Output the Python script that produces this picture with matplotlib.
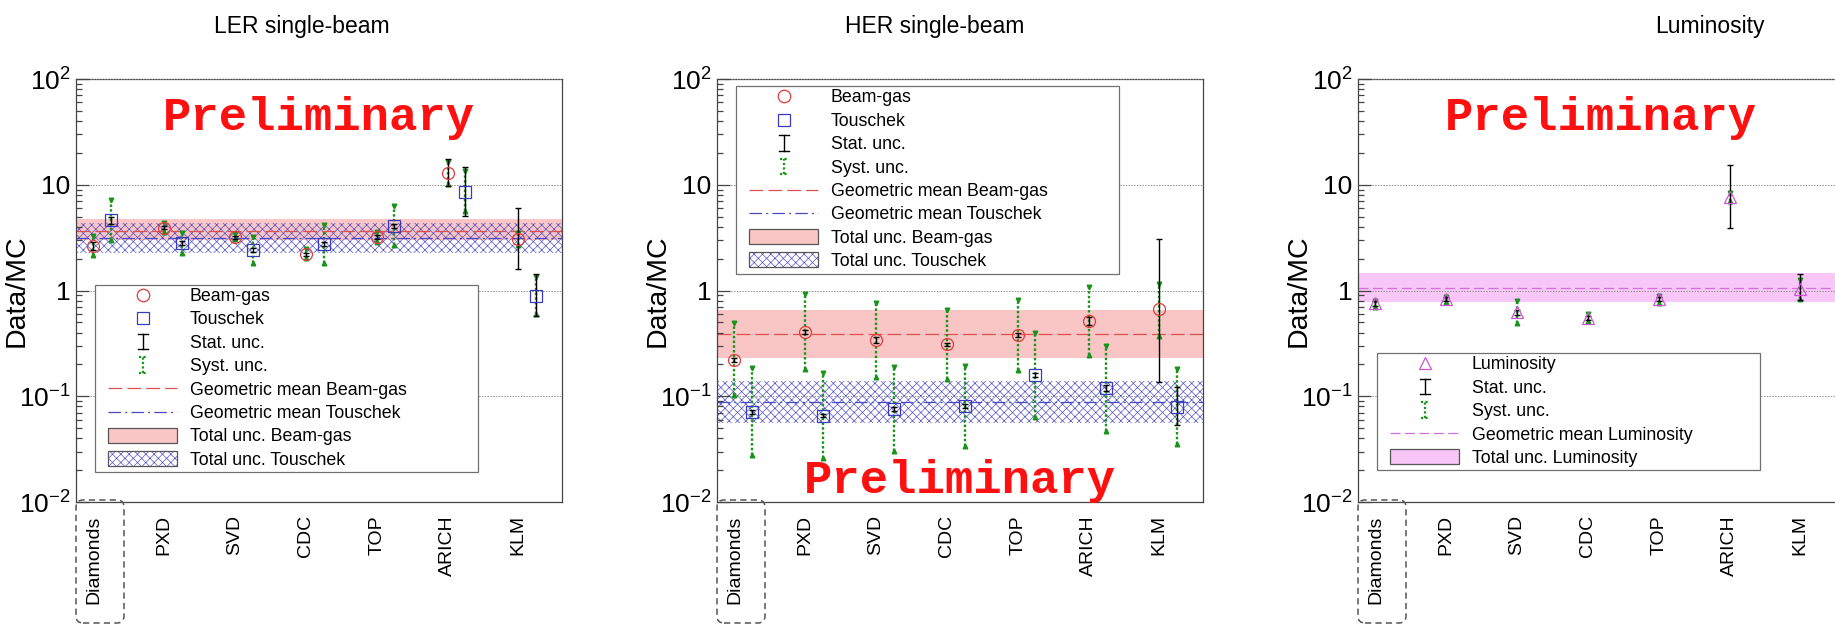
import numpy as np
import matplotlib
matplotlib.use("Agg")
import matplotlib.pyplot as plt
from matplotlib.legend_handler import HandlerBase
from matplotlib.lines import Line2D
from matplotlib.patches import Rectangle, FancyBboxPatch
from matplotlib.transforms import IdentityTransform
from matplotlib.ticker import FixedLocator, FixedFormatter, NullFormatter, LogLocator

plt.rcParams.update({
    'font.family': ['Liberation Sans', 'DejaVu Sans'],
    'mathtext.fontset': 'custom',
    'mathtext.rm': 'Liberation Sans',
    'mathtext.it': 'Liberation Sans:italic',
    'mathtext.bf': 'Liberation Sans:bold',
    'mathtext.default': 'regular',
    'lines.scale_dashes': False,
    'hatch.linewidth': 0.5,
    'hatch.color': '#5454c8',
})

# ---------------- data ----------------
categories = ['Diamonds', 'PXD', 'SVD', 'CDC', 'TOP', 'ARICH', 'KLM']
panel_titles = ['LER single-beam', 'HER single-beam', 'Luminosity']
ytick_values = [1e-2, 1e-1, 1, 10, 100]
ytick_labels = [r'$10^{-2}$', r'$10^{-1}$', '1', '10', r'$10^{2}$']

# LER single-beam
ler_bg_val = [2.64, 3.92, 3.20, 2.21, 3.23, 13.0, 3.07]
ler_bg_stat_lo = [2.43, 3.78, 3.10, 2.14, 3.10, 9.7, 1.60]
ler_bg_stat_hi = [2.88, 4.07, 3.30, 2.28, 3.37, 17.4, 6.03]
ler_bg_syst_lo = [2.17, 3.55, 3.05, 2.03, 2.89, 10.2, 2.70]
ler_bg_syst_hi = [3.27, 4.35, 3.40, 2.47, 3.60, 16.5, 3.50]
ler_t_val = [4.64, 2.83, 2.41, 2.73, 4.10, 8.6, 0.887]
ler_t_stat_lo = [4.30, 2.70, 2.32, 2.62, 3.90, 5.06, 0.574]
ler_t_stat_hi = [5.00, 2.97, 2.50, 2.85, 4.30, 14.6, 1.42]
ler_t_syst_lo = [3.00, 2.26, 1.81, 1.81, 2.69, 5.6, 0.60]
ler_t_syst_hi = [7.18, 3.52, 3.22, 4.16, 6.30, 13.5, 1.35]
ler_bg_mean, ler_bg_band = 3.68, (3.00, 4.70)
ler_t_mean, ler_t_band = 3.12, (2.28, 4.32)

# HER single-beam
her_bg_val = [0.220, 0.408, 0.340, 0.310, 0.380, 0.515, 0.664]
her_bg_stat_lo = [0.210, 0.390, 0.318, 0.300, 0.365, 0.475, 0.136]
her_bg_stat_hi = [0.230, 0.425, 0.362, 0.320, 0.395, 0.560, 3.08]
her_bg_syst_lo = [0.103, 0.180, 0.151, 0.145, 0.177, 0.246, 0.370]
her_bg_syst_hi = [0.490, 0.930, 0.757, 0.660, 0.810, 1.090, 1.150]
her_t_val = [0.0710, 0.0655, 0.0757, 0.0810, 0.159, 0.119, 0.0796]
her_t_stat_lo = [0.0680, 0.0630, 0.0720, 0.0770, 0.153, 0.112, 0.0535]
her_t_stat_hi = [0.0740, 0.0680, 0.0790, 0.0850, 0.165, 0.127, 0.122]
her_t_syst_lo = [0.0277, 0.0259, 0.0305, 0.0335, 0.064, 0.047, 0.035]
her_t_syst_hi = [0.184, 0.167, 0.190, 0.193, 0.400, 0.300, 0.180]
her_bg_mean, her_bg_band = 0.388, (0.229, 0.654)
her_t_mean, her_t_band = 0.0889, (0.0562, 0.139)

# Luminosity
lum_val = [0.757, 0.826, 0.622, 0.553, 0.826, 7.6, 1.03]
lum_stat_lo = [0.720, 0.790, 0.590, 0.530, 0.790, 3.93, 0.81]
lum_stat_hi = [0.790, 0.860, 0.660, 0.580, 0.865, 15.3, 1.42]
lum_syst_lo = [0.700, 0.780, 0.490, 0.510, 0.770, 7.0, 0.83]
lum_syst_hi = [0.800, 0.870, 0.800, 0.600, 0.880, 8.3, 1.26]
lum_mean, lum_band = 1.06, (0.773, 1.45)

# ---------------- style ----------------
W, H, DPI = 1835, 626, 100
AX_LEFTS = [76, 717, 1358]
AX_TOP, AX_BOTTOM, AX_W = 79, 502, 486
XLIM = (-0.247, 6.617)
T_OFF = 0.25
TITLE_X = [302, 935, 1710]
HATCH = 'xxxx'

RED = '#e23a3a'
RED_LINE = '#dc5050'
BLUE = '#3a3ac0'
BLUE_LINE = '#4848c8'
HATCH_BLUE = '#5454c8'
PINK = '#f9c5c5'
MAG = '#cc55d6'
MAG_LINE = '#d070d8'
MAG_BAND = '#f9c6f8'
GREEN = '#1a931a'
FRAME = '#444444'

fig = plt.figure(figsize=(W / DPI, H / DPI), dpi=DPI)


class Entry:
    def __init__(self, kind, **kw):
        self.kind = kind
        self.kw = kw


INNER = 49.7  # points


class EntryHandler(HandlerBase):
    def create_artists(self, legend, h, xd, yd, width, height, fontsize, trans):
        x1 = width - xd
        x0 = x1 - INNER
        xc = 0.5 * (x0 + x1)
        yc = height / 2.0 - yd
        kw = h.kw
        arts = []
        if h.kind == 'marker':
            arts.append(Line2D([xc], [yc], ls='none', marker=kw['marker'], ms=kw['ms'],
                               mfc='none', mec=kw['color'], mew=0.9))
        elif h.kind == 'stat':
            hh, cw = 5.6, 3.6
            arts.append(Line2D([xc, xc], [yc - hh, yc + hh], color='black', lw=1.0))
            arts.append(Line2D([xc - cw, xc + cw], [yc + hh, yc + hh], color='black', lw=1.0))
            arts.append(Line2D([xc - cw, xc + cw], [yc - hh, yc - hh], color='black', lw=1.0))
        elif h.kind == 'syst':
            hh, cw = 5.6, 3.0
            arts.append(Line2D([xc, xc], [yc - hh, yc + hh], color=GREEN, lw=1.6, dashes=(1.6, 1.6)))
            arts.append(Line2D([xc - cw, xc + cw], [yc + hh, yc + hh], color=GREEN, lw=1.6, dashes=(1.6, 1.6)))
            arts.append(Line2D([xc - cw, xc + cw], [yc - hh, yc - hh], color=GREEN, lw=1.6, dashes=(1.6, 1.6)))
        elif h.kind == 'line':
            arts.append(Line2D([x0, x1], [yc, yc], color=kw['color'], lw=0.9, dashes=kw['dashes']))
        elif h.kind == 'patch':
            hh = 5.4
            if kw.get('hatch'):
                arts.append(Rectangle((x0, yc - hh), x1 - x0, 2 * hh, facecolor='white',
                                      edgecolor=HATCH_BLUE, hatch=kw['hatch'], lw=0))
                arts.append(Rectangle((x0, yc - hh), x1 - x0, 2 * hh, facecolor='none',
                                      edgecolor='#555555', lw=0.9))
            else:
                arts.append(Rectangle((x0, yc - hh), x1 - x0, 2 * hh, facecolor=kw['fc'],
                                      edgecolor='#555555', lw=0.9))
        for a in arts:
            a.set_transform(trans)
        return arts


def setup_axes(left_px):
    ax = fig.add_axes([left_px / W, (H - AX_BOTTOM) / H, AX_W / W, (AX_BOTTOM - AX_TOP) / H])
    ax.set_yscale('log')
    ax.set_ylim(1e-2, 1e2)
    ax.set_xlim(*XLIM)
    ax.set_axisbelow(False)
    ax.yaxis.set_major_locator(FixedLocator(ytick_values))
    ax.yaxis.set_major_formatter(FixedFormatter(ytick_labels))
    ax.yaxis.set_minor_locator(LogLocator(base=10, subs=np.arange(2, 10)))
    ax.yaxis.set_minor_formatter(NullFormatter())
    ax.tick_params(axis='y', which='major', direction='in', length=9, width=0.9,
                   color=FRAME, labelsize=19, pad=4, right=False)
    ax.tick_params(axis='y', which='minor', direction='in', length=4.5, width=0.9,
                   color=FRAME, right=False)
    ax.set_xticks(range(len(categories)))
    ax.set_xticklabels(categories, rotation=90, va='top', ha='center')
    ax.tick_params(axis='x', length=0, pad=9.5, labelsize=14)
    ax.yaxis.grid(True, which='major', color='#8c8c8c', lw=0.7, ls=(0, (1, 1)))
    for s in ax.spines.values():
        s.set_color(FRAME)
        s.set_linewidth(0.9)
    ax.set_ylabel('Data/MC', fontsize=20.5)
    ax.yaxis.set_label_coords(-0.0959, 0.5)
    # dashed rounded box around the "Diamonds" label
    box = FancyBboxPatch((left_px, H - 623), 48, 123,
                         boxstyle='round,pad=0,rounding_size=7',
                         transform=IdentityTransform(), fill=False,
                         ec='#555555', lw=1.1, ls=(0, (4.5, 3)))
    fig.add_artist(box)
    return ax


def draw_series(ax, x, val, stat_lo, stat_hi, syst_lo, syst_hi, marker, color, ms):
    val = np.asarray(val)
    stat_lo, stat_hi = np.asarray(stat_lo), np.asarray(stat_hi)
    syst_lo, syst_hi = np.asarray(syst_lo), np.asarray(syst_hi)
    eb = ax.errorbar(x, val, yerr=[val - syst_lo, syst_hi - val], fmt='none',
                     ecolor=GREEN, elinewidth=1.7, capsize=0, zorder=3)
    for lc in eb[2]:
        lc.set_linestyle((0, (1.8, 1.6)))
    ax.plot(x, syst_hi, ls='none', marker='v', ms=3.3, color=GREEN, zorder=3)
    ax.plot(x, syst_lo, ls='none', marker='^', ms=3.3, color=GREEN, zorder=3)
    ax.errorbar(x, val, yerr=[val - stat_lo, stat_hi - val], fmt='none',
                ecolor='black', elinewidth=1.0, capsize=1.9, capthick=1.0, zorder=4)
    ax.plot(x, val, ls='none', marker=marker, ms=ms, mfc='none', mec=color, mew=0.9, zorder=5)


def preliminary(ax, yfrac):
    ax.text(0.5, yfrac, 'Preliminary', transform=ax.transAxes, ha='center', va='baseline',
            fontsize=34, fontweight='bold', family='Liberation Mono', color='#ff1010', zorder=7)


def legend(ax, handles, labels, top):
    leg = ax.legend(handles, labels, handler_map={Entry: EntryHandler()},
                    loc='upper left', bbox_to_anchor=(19 / AX_W, top, 383 / AX_W, 0),
                    mode='expand', borderaxespad=0, borderpad=0.19, labelspacing=0.36,
                    handlelength=4.45, handletextpad=0.7, fontsize=12.8,
                    frameon=True, fancybox=False, edgecolor='#707070', framealpha=1)
    leg.get_frame().set_linewidth(0.9)
    leg.set_zorder(6)
    return leg


x = np.arange(len(categories))

bt_handles = [Entry('marker', marker='o', color=RED, ms=9),
              Entry('marker', marker='s', color=BLUE, ms=8.5),
              Entry('stat'), Entry('syst'),
              Entry('line', color=RED_LINE, dashes=(10, 3.6)),
              Entry('line', color=BLUE_LINE, dashes=(9, 3, 1.5, 3)),
              Entry('patch', fc=PINK),
              Entry('patch', hatch=HATCH)]
bt_labels = ['Beam-gas', 'Touschek', 'Stat. unc.', 'Syst. unc.',
             'Geometric mean Beam-gas', 'Geometric mean Touschek',
             'Total unc. Beam-gas', 'Total unc. Touschek']

beam_panels = [
    (ler_bg_val, ler_bg_stat_lo, ler_bg_stat_hi, ler_bg_syst_lo, ler_bg_syst_hi,
     ler_t_val, ler_t_stat_lo, ler_t_stat_hi, ler_t_syst_lo, ler_t_syst_hi,
     ler_bg_mean, ler_bg_band, ler_t_mean, ler_t_band),
    (her_bg_val, her_bg_stat_lo, her_bg_stat_hi, her_bg_syst_lo, her_bg_syst_hi,
     her_t_val, her_t_stat_lo, her_t_stat_hi, her_t_syst_lo, her_t_syst_hi,
     her_bg_mean, her_bg_band, her_t_mean, her_t_band),
]
legend_tops = [(AX_BOTTOM - 284.7) / (AX_BOTTOM - AX_TOP), (AX_BOTTOM - 86) / (AX_BOTTOM - AX_TOP)]
prelim_y = [(AX_BOTTOM - 130) / (AX_BOTTOM - AX_TOP), (AX_BOTTOM - 493) / (AX_BOTTOM - AX_TOP)]

for i, p in enumerate(beam_panels):
    (bgv, bgsl, bgsh, bgyl, bgyh, tv, tsl, tsh, tyl, tyh, bgm, bgb, tm, tb) = p
    ax = setup_axes(AX_LEFTS[i])
    ax.axhspan(bgb[0], bgb[1], facecolor=PINK, edgecolor='none', zorder=1)
    ax.axhspan(tb[0], tb[1], facecolor='none', edgecolor=HATCH_BLUE, hatch=HATCH, lw=0, zorder=1.5)
    ax.axhline(bgm, color=RED_LINE, lw=0.9, dashes=(10, 3.6), zorder=2)
    ax.axhline(tm, color=BLUE_LINE, lw=0.9, dashes=(9, 3, 1.5, 3), zorder=2)
    draw_series(ax, x, bgv, bgsl, bgsh, bgyl, bgyh, 'o', RED, 8.6)
    draw_series(ax, x + T_OFF, tv, tsl, tsh, tyl, tyh, 's', BLUE, 8.6)
    legend(ax, bt_handles, bt_labels, legend_tops[i])
    preliminary(ax, prelim_y[i])

# Luminosity panel
ax = setup_axes(AX_LEFTS[2])
ax.axhspan(lum_band[0], lum_band[1], facecolor=MAG_BAND, edgecolor='none', zorder=1)
ax.axhline(lum_mean, color=MAG_LINE, lw=0.9, dashes=(7.2, 3.2), zorder=2)
draw_series(ax, x, lum_val, lum_stat_lo, lum_stat_hi, lum_syst_lo, lum_syst_hi, '^', MAG, 8.0)
lum_handles = [Entry('marker', marker='^', color=MAG, ms=8),
               Entry('stat'), Entry('syst'),
               Entry('line', color=MAG_LINE, dashes=(7.2, 3.2)),
               Entry('patch', fc=MAG_BAND)]
lum_labels = ['Luminosity', 'Stat. unc.', 'Syst. unc.',
              'Geometric mean Luminosity', 'Total unc. Luminosity']
legend(ax, lum_handles, lum_labels, (AX_BOTTOM - 353) / (AX_BOTTOM - AX_TOP))
preliminary(ax, prelim_y[0])

for t, tx in zip(panel_titles, TITLE_X):
    fig.text(tx / W, 1 - 26 / H, t, ha='center', va='center', fontsize=16.5)

fig.savefig('out.png', dpi=DPI)
